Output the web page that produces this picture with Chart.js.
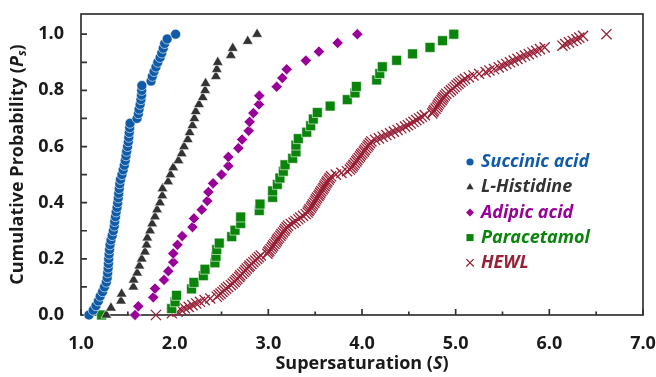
<!DOCTYPE html>
<html lang="en">
<head>
    <meta charset="UTF-8">
    <title>Cumulative Probability vs Supersaturation</title>
    <script src="https://cdn.jsdelivr.net/npm/chart.js"></script>
    <style>
        body {
            margin: 0;
            background: #fff;
        }
        #wrap {
            width: 656px;
            height: 377px;
        }
    </style>
</head>
<body>
    <div id="wrap"><canvas id="chart" width="656" height="377"></canvas></div>
    <script>
        // values: supersaturation S and cumulative probability Ps
        const succinicS = [
            1.085, 1.13, 1.16, 1.185, 1.205, 1.23, 1.25, 1.27, 1.28, 1.285,
            1.29, 1.293, 1.296, 1.30, 1.305, 1.31, 1.32, 1.333, 1.345, 1.355,
            1.36, 1.368, 1.375, 1.385, 1.392, 1.398, 1.403, 1.408, 1.414, 1.422,
            1.437, 1.45, 1.462, 1.472, 1.48, 1.488, 1.497, 1.505, 1.51, 1.515,
            1.52, 1.524, 1.598, 1.612, 1.62, 1.631, 1.64, 1.646, 1.648, 1.65,
            1.748, 1.762, 1.78, 1.80, 1.82, 1.845, 1.862, 1.878, 1.893, 1.92,
            2.01
        ];
        const succinicP = [
            0.000, 0.017, 0.033, 0.050, 0.067, 0.083, 0.100, 0.117, 0.133, 0.150,
            0.167, 0.183, 0.200, 0.217, 0.233, 0.250, 0.267, 0.283, 0.300, 0.317,
            0.333, 0.350, 0.367, 0.383, 0.400, 0.417, 0.433, 0.450, 0.467, 0.483,
            0.500, 0.517, 0.533, 0.550, 0.567, 0.583, 0.600, 0.617, 0.633, 0.650,
            0.667, 0.683, 0.700, 0.717, 0.733, 0.750, 0.767, 0.783, 0.800, 0.817,
            0.833, 0.850, 0.867, 0.883, 0.900, 0.917, 0.933, 0.950, 0.967, 0.983,
            1.000
        ];

        const histidineS = [
            1.27, 1.32, 1.427, 1.434, 1.559, 1.562, 1.60, 1.623, 1.648, 1.683,
            1.70, 1.708, 1.737, 1.76, 1.79, 1.812, 1.843, 1.868, 1.870, 1.93,
            1.955, 1.985, 2.04, 2.075, 2.10, 2.14, 2.16, 2.19, 2.21, 2.225,
            2.26, 2.30, 2.325, 2.33, 2.44, 2.45, 2.46, 2.60, 2.62, 2.78,
            2.88
        ];
        const histidineP = [
            0.000, 0.025, 0.050, 0.075, 0.100, 0.125, 0.150, 0.175, 0.200, 0.225,
            0.250, 0.275, 0.300, 0.325, 0.350, 0.375, 0.400, 0.425, 0.450, 0.475,
            0.500, 0.525, 0.550, 0.575, 0.600, 0.625, 0.650, 0.675, 0.700, 0.725,
            0.750, 0.775, 0.800, 0.825, 0.850, 0.875, 0.900, 0.925, 0.950, 0.975,
            1.000
        ];

        const adipicS = [
            1.577, 1.612, 1.772, 1.79, 1.886, 1.932, 1.985, 1.985, 2.03, 2.08,
            2.19, 2.206, 2.289, 2.348, 2.36, 2.41, 2.50, 2.573, 2.573, 2.68,
            2.72, 2.79, 2.80, 2.84, 2.90, 2.903, 3.089, 3.149, 3.196, 3.40,
            3.54, 3.74, 3.95
        ];
        const adipicP = [
            0.000, 0.031, 0.063, 0.094, 0.125, 0.156, 0.188, 0.219, 0.250, 0.281,
            0.313, 0.344, 0.375, 0.406, 0.438, 0.469, 0.500, 0.531, 0.563, 0.594,
            0.625, 0.656, 0.688, 0.719, 0.750, 0.781, 0.813, 0.844, 0.875, 0.906,
            0.938, 0.969, 1.000
        ];

        const paracetamolS = [
            1.22, 1.968, 2.004, 2.02, 2.18, 2.206, 2.306, 2.324, 2.43, 2.441,
            2.449, 2.476, 2.609, 2.644, 2.705, 2.705, 2.903, 2.911, 3.046, 3.046,
            3.096, 3.124, 3.16, 3.178, 3.26, 3.295, 3.295, 3.32, 3.41, 3.452,
            3.48, 3.523, 3.66, 3.843, 3.925, 3.94, 4.157, 4.19, 4.217, 4.37,
            4.54, 4.726, 4.86, 4.98
        ];
        const paracetamolP = [
            0.000, 0.023, 0.047, 0.070, 0.093, 0.116, 0.140, 0.163, 0.186, 0.209,
            0.233, 0.256, 0.279, 0.302, 0.326, 0.349, 0.372, 0.395, 0.419, 0.442,
            0.465, 0.488, 0.512, 0.535, 0.558, 0.581, 0.605, 0.628, 0.651, 0.674,
            0.698, 0.721, 0.744, 0.767, 0.791, 0.814, 0.837, 0.860, 0.884, 0.907,
            0.930, 0.953, 0.977, 1.000
        ];

        const hewlS = [
            1.80, 1.97,
            2.03, 2.07, 2.11, 2.15, 2.19, 2.23, 2.27, 2.32, 2.38,
            2.45, 2.47, 2.49, 2.51, 2.53, 2.55, 2.57, 2.60,
            2.62, 2.64, 2.655, 2.67, 2.69, 2.70, 2.72, 2.74, 2.755, 2.77, 2.79, 2.80, 2.82, 2.84, 2.86, 2.88, 2.90, 2.92,
            2.99, 3.00, 3.01, 3.025, 3.04, 3.05, 3.065, 3.08, 3.09, 3.10, 3.115, 3.13, 3.14, 3.155, 3.17, 3.18, 3.195, 3.21,
            3.24, 3.27, 3.29, 3.32, 3.34, 3.37, 3.40,
            3.42, 3.43, 3.44, 3.455, 3.465, 3.475, 3.49, 3.50, 3.51, 3.52, 3.535, 3.545,
            3.555, 3.565, 3.58, 3.59, 3.60, 3.61, 3.62, 3.63, 3.645, 3.655, 3.67,
            3.72, 3.78, 3.84,
            3.87, 3.885, 3.90, 3.91, 3.925, 3.94, 3.95, 3.965, 3.98, 3.99, 4.005, 4.02, 4.03, 4.045, 4.06, 4.07, 4.085, 4.10,
            4.14, 4.18, 4.22, 4.26, 4.30, 4.34, 4.38, 4.42, 4.46,
            4.49, 4.52, 4.55, 4.58, 4.61, 4.64, 4.67,
            4.75, 4.76, 4.77, 4.785, 4.80, 4.81, 4.82, 4.835, 4.85, 4.86, 4.87, 4.885, 4.90,
            4.93, 4.95, 4.97, 4.99, 5.01, 5.03, 5.05, 5.075, 5.10,
            5.14, 5.19, 5.25,
            5.32, 5.36, 5.41, 5.46,
            5.50, 5.54, 5.58, 5.62, 5.66, 5.70, 5.74, 5.78, 5.82, 5.86, 5.90, 5.95,
            6.14, 6.17, 6.21, 6.25, 6.29, 6.32, 6.36,
            6.61
        ];
        const hewlP = [
            0.000, 0.006, 0.012, 0.018, 0.024, 0.029, 0.035, 0.041, 0.047, 0.053,
            0.059, 0.065, 0.071, 0.076, 0.082, 0.088, 0.094, 0.100, 0.106, 0.112,
            0.118, 0.124, 0.129, 0.135, 0.141, 0.147, 0.153, 0.159, 0.165, 0.171,
            0.176, 0.182, 0.188, 0.194, 0.200, 0.206, 0.212, 0.218, 0.224, 0.229,
            0.235, 0.241, 0.247, 0.253, 0.259, 0.265, 0.271, 0.276, 0.282, 0.288,
            0.294, 0.300, 0.306, 0.312, 0.318, 0.324, 0.329, 0.335, 0.341, 0.347,
            0.353, 0.359, 0.365, 0.371, 0.376, 0.382, 0.388, 0.394, 0.400, 0.406,
            0.412, 0.418, 0.424, 0.429, 0.435, 0.441, 0.447, 0.453, 0.459, 0.465,
            0.471, 0.476, 0.482, 0.488, 0.494, 0.500, 0.506, 0.512, 0.518, 0.524,
            0.529, 0.535, 0.541, 0.547, 0.553, 0.559, 0.565, 0.571, 0.576, 0.582,
            0.588, 0.594, 0.600, 0.606, 0.612, 0.618, 0.624, 0.629, 0.635, 0.641,
            0.647, 0.653, 0.659, 0.665, 0.671, 0.676, 0.682, 0.688, 0.694, 0.700,
            0.706, 0.712, 0.718, 0.724, 0.729, 0.735, 0.741, 0.747, 0.753, 0.759,
            0.765, 0.771, 0.776, 0.782, 0.788, 0.794, 0.800, 0.806, 0.812, 0.818,
            0.824, 0.829, 0.835, 0.841, 0.847, 0.853, 0.859, 0.865, 0.871, 0.876,
            0.882, 0.888, 0.894, 0.900, 0.906, 0.912, 0.918, 0.924, 0.929, 0.935,
            0.941, 0.947, 0.953, 0.959, 0.965, 0.971, 0.976, 0.982, 0.988, 0.994,
            1.000
        ];

        const seriesNames = ['Succinic acid', 'L-Histidine', 'Adipic acid', 'Paracetamol', 'HEWL'];

        // styling
        const seriesColors = ['#0f5ba7', '#333333', '#990099', '#0a840a', '#982036'];
        const pointStyles = ['circle', 'triangle', 'rectRot', 'rect', 'crossRot'];
        const markerRadius = [5, 6.2, 5.6, 7, 7.2];
        const legendRadius = [3.6, 4.2, 4, 5, 5.2];
        const FONT = "'Open Sans', 'DejaVu Sans', sans-serif";

        function toPoints(xs, ys) {
            return xs.map((x, i) => ({ x: x, y: ys[i] }));
        }

        const seriesData = [
            toPoints(succinicS, succinicP),
            toPoints(histidineS, histidineP),
            toPoints(adipicS, adipicP),
            toPoints(paracetamolS, paracetamolP),
            toPoints(hewlS, hewlP)
        ];

        // draws a line of text made of differently styled pieces, centred on (cx, cy)
        function drawRuns(ctx, runs, cx, cy, rotate) {
            ctx.save();
            ctx.translate(cx, cy);
            if (rotate) ctx.rotate(-Math.PI / 2);
            let total = 0;
            runs.forEach(r => {
                ctx.font = r.font;
                r.w = ctx.measureText(r.text).width;
                total += r.w;
            });
            let x = -total / 2;
            ctx.textAlign = 'left';
            ctx.textBaseline = 'middle';
            ctx.fillStyle = '#1a1a1a';
            runs.forEach(r => {
                ctx.font = r.font;
                ctx.fillText(r.text, x, r.dy || 0);
                x += r.w;
            });
            ctx.restore();
        }

        const framePlugin = {
            id: 'frame',
            beforeDatasetsDraw(chart) {
                const { ctx, chartArea: a, scales } = chart;
                ctx.save();
                ctx.strokeStyle = '#333333';
                ctx.lineWidth = 1.7;
                ctx.strokeRect(a.left, a.top, a.right - a.left, a.bottom - a.top);
                ctx.beginPath();
                scales.x.ticks.forEach(t => {
                    const px = scales.x.getPixelForValue(t.value);
                    const len = Number.isInteger(t.value) ? 6 : 3.5;
                    ctx.moveTo(px, a.bottom);
                    ctx.lineTo(px, a.bottom - len);
                });
                scales.y.ticks.forEach(t => {
                    if (t.value > 1.0001) return;
                    const py = scales.y.getPixelForValue(t.value);
                    ctx.moveTo(a.left, py);
                    ctx.lineTo(a.left + 6, py);
                });
                ctx.stroke();
                ctx.restore();
            },
            afterDraw(chart) {
                const { ctx, chartArea: a } = chart;
                const bold = "bold 18px " + FONT;
                const boldIt = "italic bold 18px " + FONT;

                drawRuns(ctx, [
                    { text: 'Supersaturation (', font: bold },
                    { text: 'S', font: boldIt },
                    { text: ')', font: bold }
                ], (a.left + a.right) / 2, 364, false);

                drawRuns(ctx, [
                    { text: 'Cumulative Probability (', font: bold },
                    { text: 'P', font: boldIt },
                    { text: 's', font: "italic bold 12px " + FONT, dy: 5 },
                    { text: ')', font: bold }
                ], 18, (a.top + a.bottom) / 2, true);

                // legend inside the plot
                ctx.save();
                seriesNames.forEach((name, i) => {
                    const y = 162 + i * 25.2;
                    ctx.fillStyle = seriesColors[i];
                    ctx.strokeStyle = seriesColors[i];
                    ctx.lineWidth = 1.2;
                    Chart.helpers.drawPoint(ctx, {
                        pointStyle: pointStyles[i],
                        radius: legendRadius[i],
                        rotation: 0,
                        borderWidth: pointStyles[i] === 'crossRot' ? 1.2 : 0
                    }, 470, y);
                    ctx.font = "italic bold 18px " + FONT;
                    ctx.textAlign = 'left';
                    ctx.textBaseline = 'middle';
                    ctx.fillText(name, 481, y);
                });
                ctx.restore();
            }
        };

        new Chart(document.getElementById('chart'), {
            type: 'scatter',
            data: {
                datasets: seriesNames.map((name, i) => ({
                    label: name,
                    data: seriesData[i],
                    pointStyle: pointStyles[i],
                    pointRadius: markerRadius[i],
                    backgroundColor: seriesColors[i],
                    borderColor: pointStyles[i] === 'crossRot' ? seriesColors[i] : 'rgba(255,255,255,0.6)',
                    pointBorderWidth: pointStyles[i] === 'crossRot' ? 1.3 : 1,
                    showLine: false,
                    clip: false
                }))
            },
            options: {
                responsive: false,
                animation: false,
                events: [],
                layout: { padding: { top: 14, right: 13, bottom: 0, left: 0 } },
                plugins: {
                    legend: { display: false },
                    tooltip: { enabled: false }
                },
                scales: {
                    x: {
                        type: 'linear',
                        min: 1,
                        max: 7,
                        bounds: 'data',
                        afterFit: s => {
                            s.height = 62;
                            s.paddingLeft = 0;
                            s.paddingRight = 0;
                        },
                        grid: { display: false, drawTicks: false },
                        border: { display: false },
                        ticks: {
                            stepSize: 0.5,
                            autoSkip: false,
                            maxRotation: 0,
                            padding: 18,
                            color: '#1a1a1a',
                            font: { family: FONT, size: 18, weight: 'bold' },
                            callback: v => Number.isInteger(v) ? v.toFixed(1) : ''
                        }
                    },
                    y: {
                        type: 'linear',
                        min: 0,
                        max: 1.072,
                        bounds: 'data',
                        afterFit: s => {
                            s.width = 81;
                            s.paddingTop = 0;
                            s.paddingBottom = 0;
                        },
                        grid: { display: false, drawTicks: false },
                        border: { display: false },
                        ticks: {
                            stepSize: 0.1,
                            includeBounds: false,
                            autoSkip: false,
                            padding: 17,
                            color: '#1a1a1a',
                            font: { family: FONT, size: 18, weight: 'bold' },
                            callback: v => (v <= 1.0001 && Math.round(v * 10) % 2 === 0) ? v.toFixed(1) : ''
                        }
                    }
                }
            },
            plugins: [framePlugin]
        });
    </script>
</body>
</html>
